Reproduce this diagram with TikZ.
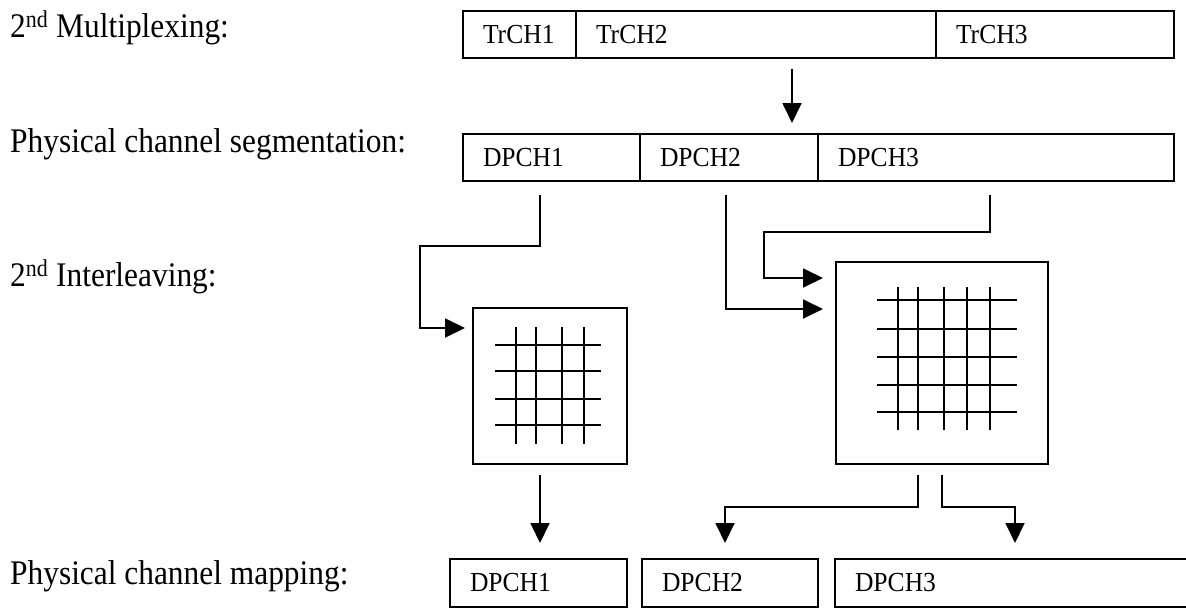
\documentclass[tikz,border=0pt]{standalone}
\usepackage{fontspec}
\setmainfont{Liberation Serif}
\newfontfamily\cellfont[FakeStretch=0.93]{Liberation Serif}
\newfontfamily\stagefont[FakeStretch=0.91]{Liberation Serif}
\usetikzlibrary{arrows.meta,calc}

\tikzset{
  stage/.style={anchor=base west, inner sep=0pt, font=\stagefont\fontsize{34.5}{40}\selectfont},
  cell/.style={draw, line width=1.8pt, anchor=north west, outer sep=0pt, inner xsep=20pt,
    inner ysep=0pt, minimum height=47pt, align=left, font=\cellfont\fontsize{27.5}{30}\selectfont},
  ilbox/.style={draw, line width=1.8pt, anchor=north west, outer sep=0pt, inner sep=0pt},
  gridline/.style={line width=2.2pt},
  flow/.style={line width=1.8pt, -{Triangle[length=20pt,width=19pt]}},
}

\begin{document}
\begin{tikzpicture}[x=1pt,y=-1pt]
\useasboundingbox (0,0) rectangle (1186,608);

% stage captions
\node[stage] (l1) at (10,37)  {2\textsuperscript{nd} Multiplexing:};
\node[stage] (l2) at (10,152) {Physical channel segmentation:};
\node[stage] (l3) at (10,286) {2\textsuperscript{nd} Interleaving:};
\node[stage] (l4) at (10,584) {Physical channel mapping:};

% multiplexed transport channels
\node[cell, text width=73pt]  (t1) at (463,11) {TrCH1};
\node[cell, text width=320pt] (t2) at (576,11) {TrCH2};
\node[cell, text width=198pt] (t3) at (936,11) {TrCH3};

% segmented physical channels
\node[cell, text width=137pt] (s1) at (463,134) {DPCH1};
\node[cell, text width=138pt] (s2) at (640,134) {DPCH2};
\node[cell, text width=316pt] (s3) at (818,134) {DPCH3};

% interleaver blocks
\node[ilbox, minimum width=154pt, minimum height=156pt] (ilA) at (473,308) {};
\node[ilbox, minimum width=212pt, minimum height=202pt] (ilB) at (836,262) {};

% interleaver grids
\foreach \x in {516,536,562,584} \draw[gridline] (\x,327) -- (\x,444);
\foreach \y in {345,371,399,425} \draw[gridline] (495,\y) -- (601,\y);
\foreach \x in {898,918,944,967,990} \draw[gridline] (\x,287) -- (\x,430);
\foreach \y in {300,329,357,385,412} \draw[gridline] (877,\y) -- (1017,\y);

% mapped physical channels
\node[cell, minimum height=48pt, text width=137pt] (m1) at (450,559) {DPCH1};
\node[cell, minimum height=48pt, text width=136pt] (m2) at (642,559) {DPCH2};
\node[cell, minimum height=48pt, text width=400pt] (m3) at (835,559) {DPCH3};

% connector end points
\coordinate (a0s) at ($(t2.south west)+(216,11)$);
\coordinate (a0e) at ($(s2.north west)+(152,-11)$);

% connectors
\draw[flow] (a0s) -- (a0e);
\draw[flow] ($(s1.south west)+(77,14)$) |- ($(ilA.north west)+(-53,-62)$)
            |- ($(ilA.north west)+(-8,20)$);
\draw[flow] ($(s2.south west)+(86,14)$) |- ($(ilB.north west)+(-13,47)$);
\draw[flow] ($(s3.south west)+(172,14)$) |- ($(ilB.north west)+(-72,-30)$)
            |- ($(ilB.north west)+(-13,16)$);
\draw[flow] ($(ilA.south west)+(67,11)$) -- ($(m1.north west)+(90,-16)$);
\draw[flow] ($(ilB.south west)+(82,11)$) |- ($(m2.north west)+(83,-52)$)
            -- ($(m2.north west)+(83,-16)$);
\draw[flow] ($(ilB.south west)+(106,11)$) |- ($(m3.north west)+(180,-52)$)
            -- ($(m3.north west)+(180,-16)$);
\end{tikzpicture}
\end{document}
